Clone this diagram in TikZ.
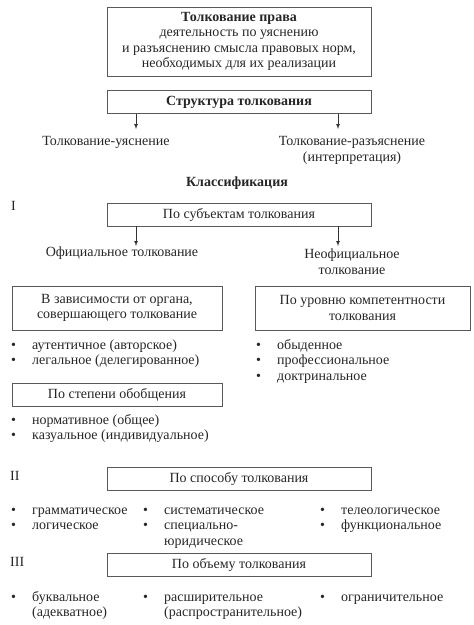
\documentclass[tikz,border=0pt]{standalone}
\usepackage{fontspec}
\setmainfont{Liberation Serif}
\usetikzlibrary{positioning}
\newcommand{\blist}[1]{\begin{tabular}[t]{@{}p{21pt}@{}l@{}}#1\end{tabular}}

\begin{document}
\begin{tikzpicture}[x=1pt, y=-1pt, font=\fontsize{14}{15.5}\selectfont, text=black!85,
        box/.style={draw=black!65, line width=0.8pt, align=center, minimum height=23pt, inner sep=2pt},
        lst/.style={anchor=base west, inner sep=0pt},
        arr/.style={-latex, line width=0.7pt, draw=black!80}]
        \useasboundingbox (0,0) rectangle (474,625);

        \node[box, minimum width=264pt, minimum height=69pt] (def) at (239,41.5) {\textbf{Толкование права}\\деятельность по уяснению\\и разъяснению смысла правовых норм,\\необходимых для их реализации};
        \node[box, minimum width=264pt] (str) at (239,102) {\textbf{Структура толкования}};
        \coordinate (s1) at (136,129);
        \coordinate (s2) at (338,129);
        \draw[arr] (str.south -| s1) -- (s1);
        \draw[arr] (str.south -| s2) -- (s2);
        \node (usn) at (106,142) {Толкование-уяснение};
        \node[align=center] (raz) at (352,150.5) {Толкование-разъяснение\\(интерпретация)};
        \node (cls) at (237,183) {\textbf{Классификация}};

        % I
        \node[anchor=west, inner sep=0pt] (r1) at (11,206) {I};
        \node[box, minimum width=264pt] (sub) at (239,214.5) {По субъектам толкования};
        \coordinate (o1) at (136,246);
        \coordinate (o2) at (338,246);
        \draw[arr] (sub.south -| o1) -- (o1);
        \draw[arr] (sub.south -| o2) -- (o2);
        \node (off) at (122,253) {Официальное толкование};
        \node[align=center] (neo) at (352,261.5) {Неофициальное\\толкование};
        \node[box, minimum width=210pt, minimum height=44pt] (org) at (117,308) {В зависимости от органа,\\совершающего толкование};
        \node[box, minimum width=215pt, minimum height=44pt] (komp) at (362.5,308) {По уровню компетентности\\толкования};
        \node[lst] (l1) at (11,349) {\blist{\textbullet&аутентичное (авторское)\\\textbullet&легальное (делегированное)}};
        \node[lst] (l2) at (256,349) {\blist{\textbullet&обыденное\\\textbullet&профессиональное\\\textbullet&доктринальное}};
        \node[box, minimum width=210pt] (obo) at (117,394.5) {По степени обобщения};
        \node[lst] (l3) at (11,424) {\blist{\textbullet&нормативное (общее)\\\textbullet&казуальное (индивидуальное)}};

        % II
        \node[anchor=west, inner sep=0pt] (r2) at (10,476) {II};
        \node[box, minimum width=264pt] (spo) at (239,478.5) {По способу толкования};
        \node[lst] (l4) at (11,514) {\blist{\textbullet&грамматическое\\\textbullet&логическое}};
        \node[lst] (l5) at (143,514) {\blist{\textbullet&систематическое\\\textbullet&специально-\\&юридическое}};
        \node[lst] (l6) at (320,514) {\blist{\textbullet&телеологическое\\\textbullet&функциональное}};

        % III
        \node[anchor=west, inner sep=0pt] (r3) at (10,562) {III};
        \node[box, minimum width=264pt] (obm) at (239,564.5) {По объему толкования};
        \node[lst] (l7) at (11,601) {\blist{\textbullet&буквальное\\&(адекватное)}};
        \node[lst] (l8) at (143,601) {\blist{\textbullet&расширительное\\&(распространительное)}};
        \node[lst] (l9) at (320,601) {\blist{\textbullet&ограничительное}};
\end{tikzpicture}
\end{document}
